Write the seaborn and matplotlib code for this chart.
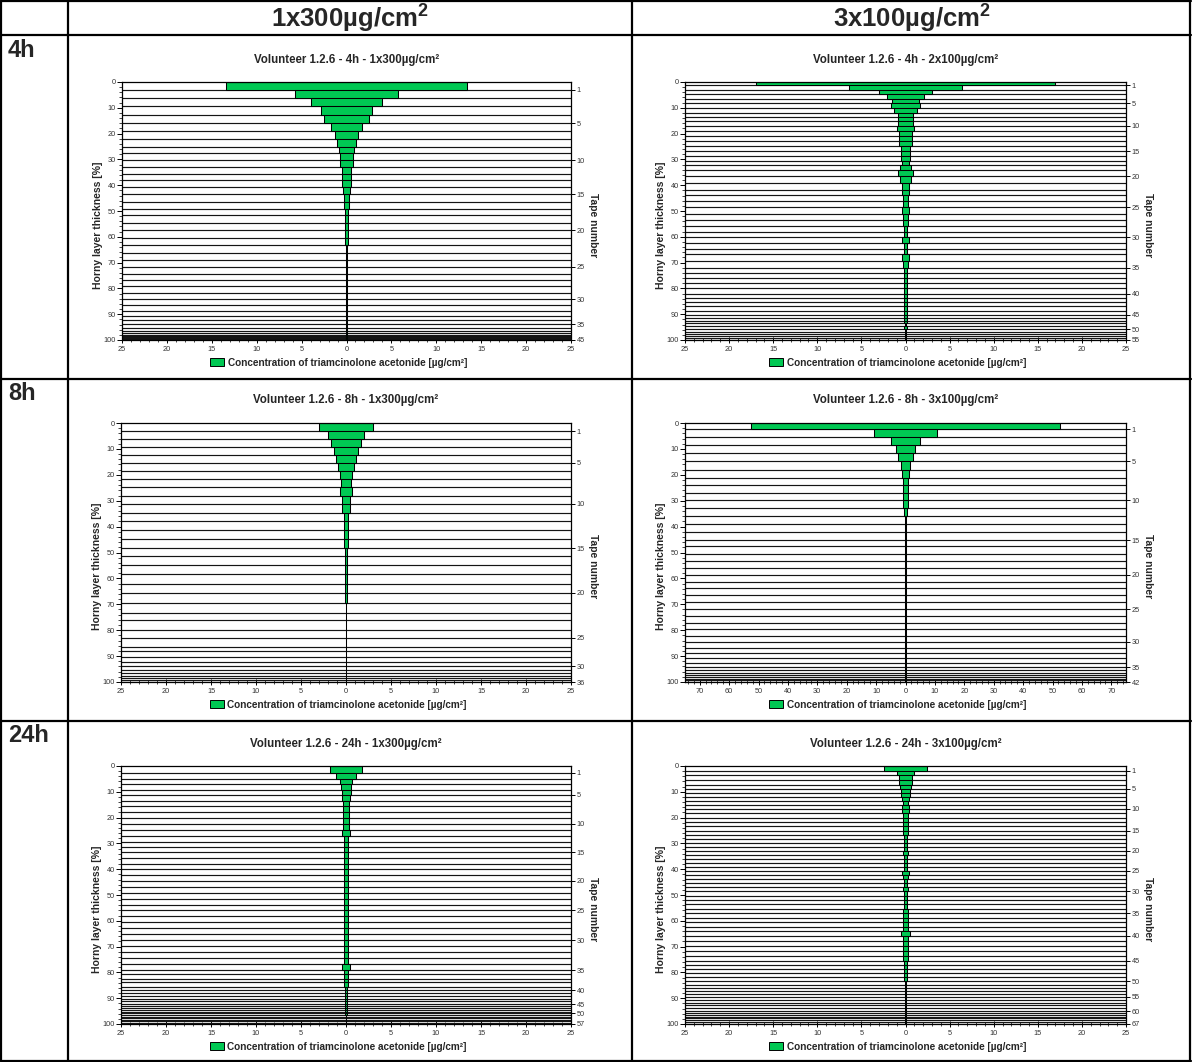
import numpy as np
import matplotlib
matplotlib.use("Agg")
import matplotlib.pyplot as plt
import seaborn as sns
from matplotlib.lines import Line2D
from matplotlib.patches import Patch
from matplotlib.ticker import MultipleLocator, FuncFormatter

# ---------------------------------------------------------------------------
# Tape-stripping data: cumulative horny-layer depth [%] at the end of each tape
# and the triamcinolone acetonide concentration [µg/cm²] found on that tape.
# ---------------------------------------------------------------------------
depth_4h_1x300 = [3.0, 6.3, 9.4, 12.6, 16.0, 19.0, 22.0, 25.0, 27.5, 30.4,
                  32.9, 35.5, 38.1, 40.8, 43.6, 46.5, 49.2, 51.7, 54.6, 57.4,
                  60.4, 63.1, 66.2, 68.9, 71.6, 74.3, 76.7, 79.2, 81.6, 84.2,
                  86.5, 88.7, 90.6, 92.3, 93.8, 95.2, 96.4, 97.3, 98.0, 98.5,
                  98.9, 99.3, 99.6, 99.8, 100.0]
conc_4h_1x300 = [13.4, 5.7, 3.9, 2.85, 2.55, 1.7, 1.25, 1.05, 0.88, 0.75,
                 0.7, 0.52, 0.48, 0.48, 0.42, 0.26, 0.24, 0.16, 0.12, 0.12,
                 0.16, 0.16, 0.1, 0.09, 0.1, 0.07, 0.06, 0.05, 0.05, 0.05,
                 0.04, 0.04, 0.04, 0.03, 0.03, 0.03, 0.03, 0.03, 0.02, 0.02,
                 0.02, 0.02, 0.02, 0.02, 0.02]
ticks_4h_1x300 = [1, 5, 10, 15, 20, 25, 30, 35, 45]

depth_4h_3x100 = [1.3, 3.2, 4.8, 6.6, 8.2, 10.2, 11.9, 13.5, 15.2, 17.0,
                  19.1, 21.0, 22.9, 24.9, 26.8, 28.7, 30.5, 32.3, 34.3, 36.5,
                  39.3, 41.8, 43.9, 46.3, 48.5, 51.2, 53.5, 55.8, 58.0, 60.2,
                  62.4, 64.6, 66.8, 69.3, 72.0, 74.0, 76.0, 78.0, 80.0, 82.0,
                  83.7, 85.3, 86.9, 88.6, 90.3, 91.4, 92.5, 93.6, 94.7, 95.9,
                  96.8, 97.6, 98.4, 99.2, 100.0]
conc_4h_3x100 = [17.0, 6.4, 3.05, 2.05, 1.55, 1.7, 1.36, 0.8, 0.8, 0.86,
                 1.0, 0.7, 0.7, 0.72, 0.47, 0.54, 0.47, 0.4, 0.68, 0.9,
                 0.68, 0.43, 0.43, 0.29, 0.29, 0.43, 0.29, 0.25, 0.22, 0.22,
                 0.36, 0.22, 0.22, 0.43, 0.25, 0.22, 0.18, 0.18, 0.18, 0.18,
                 0.14, 0.18, 0.18, 0.14, 0.18, 0.16, 0.14, 0.12, 0.1, 0.18,
                 0.1, 0.08, 0.06, 0.05, 0.05]
ticks_4h_3x100 = [1, 5, 10, 15, 20, 25, 30, 35, 40, 45, 50, 55]

depth_8h_1x300 = [3.1, 6.2, 9.3, 12.4, 15.4, 18.5, 21.6, 24.8, 28.2, 31.2,
                  34.7, 38.0, 41.4, 44.9, 48.4, 51.5, 54.8, 58.3, 62.0, 65.5,
                  69.5, 73.4, 76.2, 79.8, 83.0, 86.4, 88.0, 90.2, 92.3, 94.0,
                  95.4, 96.5, 97.5, 98.4, 99.2, 100.0]
conc_8h_1x300 = [3.05, 2.05, 1.7, 1.33, 1.1, 0.9, 0.7, 0.57, 0.62, 0.4,
                 0.4, 0.26, 0.25, 0.2, 0.17, 0.1, 0.1, 0.09, 0.09, 0.1,
                 0.07, 0.05, 0.05, 0.04, 0.02, 0.02, 0.01, 0.01, 0.01, 0.01,
                 0.01, 0.01, 0.01, 0.01, 0.01, 0.01]
ticks_8h_1x300 = [1, 5, 10, 15, 20, 25, 30, 36]

depth_8h_3x100 = [2.4, 5.4, 8.4, 11.5, 14.8, 18.0, 21.1, 24.0, 26.9, 29.9,
                  32.9, 35.8, 39.0, 42.1, 45.2, 47.3, 50.4, 53.2, 55.8, 58.5,
                  61.3, 63.8, 66.5, 69.2, 71.9, 74.6, 77.2, 79.6, 82.2, 84.5,
                  86.7, 88.9, 90.9, 92.8, 94.4, 95.5, 96.4, 97.2, 98.0, 98.7,
                  99.4, 100.0]
conc_8h_3x100 = [52.7, 10.8, 4.9, 3.4, 2.45, 1.7, 1.35, 0.85, 0.85, 0.85,
                 0.85, 0.5, 0.3, 0.3, 0.3, 0.3, 0.25, 0.25, 0.2, 0.2,
                 0.15, 0.15, 0.08, 0.06, 0.05, 0.05, 0.04, 0.04, 0.03, 0.03,
                 0.03, 0.03, 0.03, 0.02, 0.02, 0.02, 0.02, 0.02, 0.02, 0.02,
                 0.02, 0.02]
ticks_8h_3x100 = [1, 5, 10, 15, 20, 25, 30, 35, 42]

depth_24h_1x300 = [2.7, 5.0, 7.1, 9.2, 11.2, 13.4, 15.6, 17.9, 20.1, 22.3,
                   24.8, 27.2, 29.3, 31.4, 33.5, 35.7, 37.9, 40.0, 42.2, 44.4,
                   46.8, 49.1, 51.4, 53.7, 56.0, 58.3, 60.6, 62.9, 65.3, 67.6,
                   69.9, 72.2, 74.6, 76.9, 79.2, 80.8, 82.4, 83.9, 85.5, 87.0,
                   88.1, 89.1, 90.2, 91.2, 92.3, 93.0, 93.7, 94.5, 95.2, 95.9,
                   96.5, 97.1, 97.7, 98.3, 98.9, 99.5, 100.0]
conc_24h_1x300 = [1.8, 1.15, 0.72, 0.57, 0.5, 0.45, 0.3, 0.35, 0.28, 0.3,
                  0.3, 0.4, 0.22, 0.2, 0.2, 0.2, 0.2, 0.18, 0.2, 0.2,
                  0.27, 0.27, 0.25, 0.27, 0.25, 0.25, 0.25, 0.27, 0.25, 0.25,
                  0.27, 0.25, 0.25, 0.25, 0.4, 0.22, 0.2, 0.2, 0.18, 0.16,
                  0.14, 0.12, 0.12, 0.1, 0.1, 0.08, 0.08, 0.07, 0.07, 0.06,
                  0.06, 0.05, 0.05, 0.05, 0.05, 0.04, 0.04]
ticks_24h_1x300 = [1, 5, 10, 15, 20, 25, 30, 35, 40, 45, 50, 57]

depth_24h_3x100 = [1.8, 3.6, 5.4, 7.2, 8.9, 10.4, 12.0, 13.5, 15.1, 16.6,
                   18.3, 20.0, 21.7, 23.3, 25.0, 26.6, 28.2, 29.8, 31.3, 32.9,
                   34.5, 36.0, 37.6, 39.1, 40.6, 42.2, 43.8, 45.4, 47.0, 48.6,
                   50.3, 52.0, 53.6, 55.3, 57.0, 58.8, 60.5, 62.3, 64.0, 65.8,
                   67.7, 69.6, 71.6, 73.5, 75.4, 77.0, 78.7, 80.3, 81.9, 83.5,
                   84.7, 85.9, 87.1, 88.3, 89.5, 90.6, 91.7, 92.8, 93.9, 95.0,
                   95.7, 96.4, 97.1, 97.8, 98.6, 99.3, 100.0]
conc_24h_3x100 = [2.4, 0.97, 0.79, 0.75, 0.6, 0.54, 0.47, 0.4, 0.32, 0.36,
                  0.4, 0.25, 0.25, 0.25, 0.25, 0.32, 0.22, 0.22, 0.22, 0.22,
                  0.29, 0.18, 0.18, 0.18, 0.18, 0.36, 0.25, 0.14, 0.14, 0.27,
                  0.14, 0.14, 0.14, 0.14, 0.27, 0.27, 0.27, 0.27, 0.27, 0.47,
                  0.27, 0.32, 0.27, 0.27, 0.27, 0.14, 0.14, 0.14, 0.14, 0.14,
                  0.1, 0.1, 0.1, 0.1, 0.1, 0.08, 0.08, 0.08, 0.08, 0.08,
                  0.06, 0.06, 0.06, 0.06, 0.06, 0.06, 0.06]
ticks_24h_3x100 = [1, 5, 10, 15, 20, 25, 30, 35, 40, 45, 50, 55, 60, 67]

col_headers = ["1x300µg/cm$^\\mathbf{2}$", "3x100µg/cm$^\\mathbf{2}$"]
row_headers = ["4h", "8h", "24h"]
titles = [
    ["Volunteer 1.2.6 - 4h - 1x300µg/cm²", "Volunteer 1.2.6 - 4h - 2x100µg/cm²"],
    ["Volunteer 1.2.6 - 8h - 1x300µg/cm²", "Volunteer 1.2.6 - 8h - 3x100µg/cm²"],
    ["Volunteer 1.2.6 - 24h - 1x300µg/cm²", "Volunteer 1.2.6 - 24h - 3x100µg/cm²"],
]
legend_label = "Concentration of triamcinolone acetonide [µg/cm²]"

# ---------------------------------------------------------------------------
sns.set_theme(style="white")
plt.rcParams["font.family"] = ["Liberation Sans", "DejaVu Sans"]
plt.rcParams["mathtext.fontset"] = "custom"
plt.rcParams["mathtext.bf"] = "Liberation Sans:bold"
plt.rcParams["mathtext.rm"] = "Liberation Sans"

W, H = 1192, 1062
fig = plt.figure(figsize=(W / 100, H / 100), dpi=100)
fig.patch.set_facecolor("white")

GREEN = "#00C853"
TICK_GRAY = "#333333"
HEAD_SIZE = 18.5


def fx(x):
    return x / W


def fy(y):
    return 1 - y / H


def table_line(x0, y0, x1, y1, lw=1.6):
    fig.add_artist(Line2D([fx(x0), fx(x1)], [fy(y0), fy(y1)],
                          transform=fig.transFigure, color="black", lw=lw))


def draw_panel(rect, title, depth, conc, tape_ticks, xmax, xmajor, xminor):
    x0, y0, x1, y1 = rect
    ax = fig.add_axes([fx(x0), fy(y1), (x1 - x0) / W, (y1 - y0) / H])
    depth = np.asarray(depth, dtype=float)
    conc = np.asarray(conc, dtype=float)
    top = np.concatenate([[0.0], depth[:-1]])
    thick = depth - top

    # one separator line per tape boundary, across the full width
    for d in depth:
        ax.axhline(d, color="#151515", lw=0.85, zorder=1)

    # symmetric bars: each tape drawn from -c to +c over its depth band
    ax.barh(top, 2 * conc, height=thick, left=-conc, align="edge",
            color=GREEN, edgecolor="black", linewidth=0.75, zorder=2,
            label=legend_label)

    ax.set_xlim(-xmax, xmax)
    ax.set_ylim(100, 0)
    ax.set_facecolor("white")
    for s in ax.spines.values():
        s.set_visible(True)
        s.set_color("black")
        s.set_linewidth(0.9)

    ax.xaxis.set_major_locator(MultipleLocator(xmajor))
    ax.xaxis.set_minor_locator(MultipleLocator(xminor))
    ax.xaxis.set_major_formatter(FuncFormatter(lambda v, p: f"{abs(v):g}"))
    ax.yaxis.set_major_locator(MultipleLocator(10))
    ax.yaxis.set_minor_locator(MultipleLocator(2))
    ax.tick_params(axis="x", which="major", direction="inout", length=4,
                   width=0.7, labelsize=5.3, colors="black", labelcolor=TICK_GRAY,
                   pad=2.5, bottom=True)
    ax.tick_params(axis="x", which="minor", direction="inout", length=2.5,
                   width=0.6, bottom=True)
    ax.tick_params(axis="y", which="major", direction="out", length=3.5,
                   width=0.7, labelsize=5.3, colors="black", labelcolor=TICK_GRAY,
                   pad=1, left=True)
    ax.tick_params(axis="y", which="minor", direction="out", length=2,
                   width=0.6, left=True)
    ax.grid(False)

    # tape number axis on the right
    ax2 = ax.twinx()
    ax2.set_ylim(100, 0)
    ax2.set_yticks([depth[t - 1] for t in tape_ticks])
    ax2.set_yticklabels([str(t) for t in tape_ticks])
    ax2.tick_params(axis="y", direction="out", length=3, width=0.7,
                    labelsize=5.3, colors="black", labelcolor=TICK_GRAY, pad=1,
                    right=True)
    ax2.grid(False)
    for s in ax2.spines.values():
        s.set_visible(False)

    ax.text(0.5, 1 + 22.5 / (y1 - y0), title, transform=ax.transAxes,
            ha="center", va="center", fontsize=8.3, fontweight="bold")
    ax.text(-24 / (x1 - x0), 0.5 - 14 / (y1 - y0), "Horny layer thickness [%]",
            transform=ax.transAxes, rotation=90, ha="center", va="center",
            fontsize=7.5, fontweight="bold")
    ax.text(1 + 22 / (x1 - x0), 0.5 - 14 / (y1 - y0), "Tape number",
            transform=ax.transAxes, rotation=270, ha="center", va="center",
            fontsize=7.4, fontweight="bold")

    handle = Patch(facecolor=GREEN, edgecolor="black", linewidth=0.7,
                   label=legend_label)
    ax.legend(handles=[handle], loc="center",
              bbox_to_anchor=(0.5 - 8 / (x1 - x0), -22.5 / (y1 - y0)),
              frameon=False, handlelength=1.4, handleheight=0.75,
              handletextpad=0.35, borderaxespad=0, borderpad=0,
              prop={"weight": "bold", "size": 7.2})
    return ax


panels = [
    ((122, 82, 571, 340), titles[0][0], depth_4h_1x300, conc_4h_1x300, ticks_4h_1x300, 25, 5, 1),
    ((685, 82, 1126, 340), titles[0][1], depth_4h_3x100, conc_4h_3x100, ticks_4h_3x100, 25, 5, 1),
    ((121, 423, 571, 682), titles[1][0], depth_8h_1x300, conc_8h_1x300, ticks_8h_1x300, 25, 5, 1),
    ((685, 423, 1126, 682), titles[1][1], depth_8h_3x100, conc_8h_3x100, ticks_8h_3x100, 75, 10, 2),
    ((121, 766, 571, 1024), titles[2][0], depth_24h_1x300, conc_24h_1x300, ticks_24h_1x300, 25, 5, 1),
    ((685, 766, 1126, 1024), titles[2][1], depth_24h_3x100, conc_24h_3x100, ticks_24h_3x100, 25, 5, 1),
]
for spec in panels:
    draw_panel(*spec)

# surrounding table grid
for y in (1, 35, 379, 721, 1061):
    table_line(1, y, 1191, y)
for x in (1, 68, 632, 1190):
    table_line(x, 1, x, 1061)

fig.text(fx(350), fy(18), col_headers[0], ha="center", va="center",
         fontsize=HEAD_SIZE, fontweight="bold")
fig.text(fx(912), fy(18), col_headers[1], ha="center", va="center",
         fontsize=HEAD_SIZE, fontweight="bold")
for label, y in zip(row_headers, (51, 393, 735)):
    fig.text(fx(8), fy(y), label, ha="left", va="center", fontsize=17,
             fontweight="bold")

fig.savefig("out.png", dpi=100, facecolor="white")
